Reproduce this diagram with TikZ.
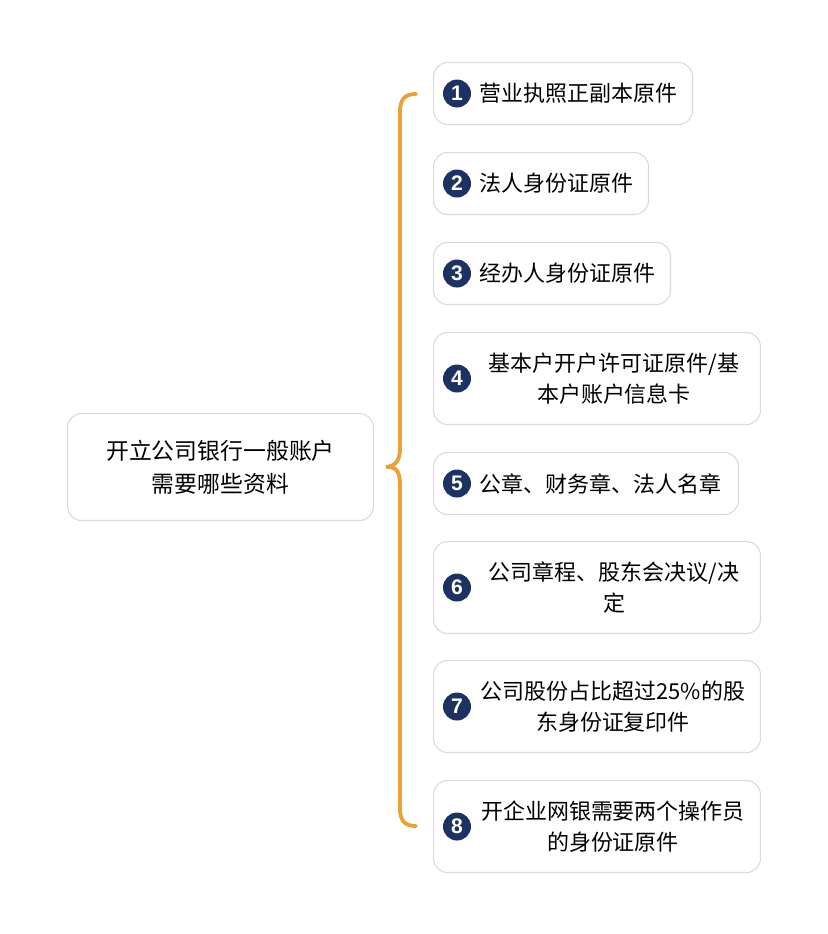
\documentclass[tikz,border=0pt]{standalone}
\usepackage{fontspec}
\setmainfont{Noto Sans CJK SC}
\newfontfamily\numfont{Liberation Sans}
\usetikzlibrary{positioning,calc}
\definecolor{boxline}{HTML}{D9D9D9}
\definecolor{braceorange}{HTML}{E9A23B}
\definecolor{badgenavy}{HTML}{1E3261}
\begin{document}
\begin{tikzpicture}
[x=0.02cm, y=-0.02cm,
itembox/.style = {draw=boxline, rounded corners=8pt, line width=0.6pt, anchor=north west, inner sep=0pt},
badge/.style = {circle, fill=badgenavy, text=white, minimum size=0.56cm, inner sep=0pt,
                font=\numfont\bfseries\fontsize{12}{12}\selectfont},
itemtext/.style = {font=\fontsize{12.5}{17.6}\selectfont, align=center, inner sep=0pt},
bracepath/.style = {draw=braceorange, line width=2.2pt, line cap=round}]
\useasboundingbox (0,0) rectangle (828,934);
% root
\node[itembox, minimum width=6.12cm, minimum height=2.14cm] (root) at (67,413) {};
\node[itemtext, font=\fontsize{13}{18.5}\selectfont] (roottext) at (root.center) {开立公司银行一般账户\\需要哪些资料};
% items
\node[itembox, minimum width=5.18cm, minimum height=1.24cm] (b1) at (433,62) {};
\node[itembox, minimum width=4.30cm, minimum height=1.24cm] (b2) at (433,152) {};
\node[itembox, minimum width=4.74cm, minimum height=1.24cm] (b3) at (433,242) {};
\node[itembox, minimum width=6.54cm, minimum height=1.84cm] (b4) at (433,332) {};
\node[itembox, minimum width=6.10cm, minimum height=1.24cm] (b5) at (433,452) {};
\node[itembox, minimum width=6.54cm, minimum height=1.84cm] (b6) at (433,541) {};
\node[itembox, minimum width=6.54cm, minimum height=1.84cm] (b7) at (433,660) {};
\node[itembox, minimum width=6.54cm, minimum height=1.84cm] (b8) at (433,780) {};
\foreach \i in {1,...,8}
  \node[badge] (n\i) at ($(b\i.west)+(24,0)$) {\i};
% single-line texts
\node[itemtext, anchor=west] (t1) at ($(n1.east)+(8,0)$) {营业执照正副本原件};
\node[itemtext, anchor=west] (t2) at ($(n2.east)+(8,0)$) {法人身份证原件};
\node[itemtext, anchor=west] (t3) at ($(n3.east)+(8,0)$) {经办人身份证原件};
\node[itemtext, anchor=west] (t5) at ($(n5.east)+(8,0)$) {公章、财务章、法人名章};
% two-line texts
\node[itemtext] (t4) at ($(b4.center)+(17,0)$) {基本户开户许可证原件/基\\本户账户信息卡};
\node[itemtext] (t6) at ($(b6.center)+(17,0)$) {公司章程、股东会决议/决\\定};
\node[itemtext] (t7) at ($(b7.center)+(16,0)$) {公司股份占比超过25\%的股\\东身份证复印件};
\node[itemtext] (t8) at ($(b8.center)+(16,0)$) {开企业网银需要两个操作员\\的身份证原件};
% brace
\coordinate (tip) at ($(root.east)+(12,0)$);
\path[bracepath] (416,94) .. controls (404,94) and (400,100) .. (400,112)
  -- (400,448) .. controls (400,460) and (396,466) .. (tip)
  .. controls (396,466) and (400,472) .. (400,484)
  -- (400,808) .. controls (400,820) and (404,826) .. (416,826);
\end{tikzpicture}
\end{document}
